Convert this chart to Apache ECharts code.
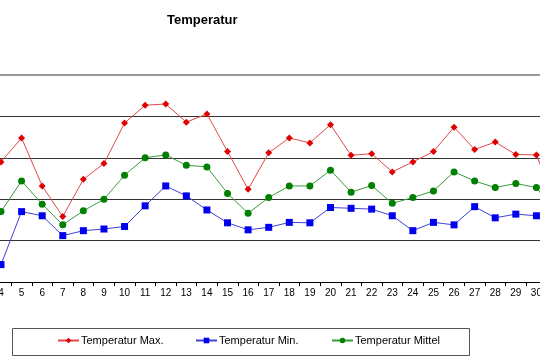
<!DOCTYPE html>
<html><head><meta charset="utf-8">
<script src="https://cdn.jsdelivr.net/npm/echarts@6/dist/echarts.min.js"></script>
<style>html,body{margin:0;padding:0;background:#fff}#c{width:540px;height:360px}</style>
</head><body><div id="c"></div>
<script>
var days = ['4','5','6','7','8','9','10','11','12','13','14','15','16','17','18','19','20','21','22','23','24','25','26','27','28','29','30','31'];
var tempMax = [14.5,17.4,11.6,7.9,12.4,14.3,19.2,21.35,21.5,19.3,20.3,15.75,11.2,15.6,17.4,16.8,19.0,15.3,15.5,13.3,14.5,15.75,18.7,16.0,16.9,15.4,15.35,9.0];
var tempMin = [2.1,8.5,8.0,5.6,6.2,6.4,6.7,9.2,11.6,10.4,8.7,7.15,6.3,6.6,7.2,7.15,9.0,8.9,8.8,8.0,6.2,7.2,6.9,9.1,7.75,8.2,8.0,7.4];
var tempMittel = [8.5,12.2,9.4,6.9,8.6,10.0,12.9,15.0,15.35,14.1,13.9,10.7,8.3,10.2,11.6,11.6,13.5,10.85,11.65,9.5,10.2,11.0,13.3,12.2,11.4,11.9,11.4,8.2];
var yTicks = {min: 0, max: 25, step: 5};
var names = ['Temperatur Max.', 'Temperatur Min.', 'Temperatur Mittel'];

var chart = echarts.init(document.getElementById('c'), null, {renderer: 'canvas'});
var font = 'Liberation Sans, Arial, sans-serif';
function lg(i, left) {
  return {
    data: [names[i]], left: left, top: 335, itemWidth: 21, itemHeight: 7, padding: 0,
    textStyle: {fontFamily: font, fontSize: 11, color: '#000', padding: [0,0,0,-3]},
    selectedMode: false
  };
}
chart.setOption({
  animation: false,
  backgroundColor: '#fff',
  title: {text: 'Temperatur', left: 162, top: 9,
    textStyle: {fontFamily: font, fontSize: 13, fontWeight: 'bold', color: '#000'}},
  grid: {left: -9.3, right: -27.3, top: 75, bottom: 78, outerBoundsMode: 'none'},
  legend: [lg(0, 57), lg(1, 195), lg(2, 331)],
  graphic: [{type: 'rect', shape: {x: 12.5, y: 328.5, width: 457, height: 27},
    style: {fill: 'none', stroke: '#555', lineWidth: 1}, silent: true}],
  xAxis: {
    type: 'category', data: days, boundaryGap: true,
    axisLine: {lineStyle: {color: '#000', width: 1}},
    axisTick: {show: true, length: 4, lineStyle: {color: '#000'}},
    axisLabel: {fontFamily: font, fontSize: 10, color: '#000', margin: 6, interval: 0}
  },
  yAxis: {
    type: 'value', min: yTicks.min, max: yTicks.max, interval: yTicks.step,
    axisLine: {show: false}, axisTick: {show: false}, axisLabel: {show: false},
    splitLine: {lineStyle: {color: ['#000', '#333', '#333', '#333', '#333', '#999'], width: 1}}
  },
  series: [
    {name: names[0], type: 'line', data: tempMax, symbol: 'diamond', symbolSize: 7,
     itemStyle: {color: '#e00000'}, lineStyle: {color: '#e04848', width: 1},
     markLine: {silent: true, symbol: 'none', label: {show: false},
       lineStyle: {color: '#999', width: 2, type: 'solid'}, data: [{yAxis: yTicks.max}]}},
    {name: names[1], type: 'line', data: tempMin, symbol: 'rect', symbolSize: 7,
     itemStyle: {color: '#0000ee'}, lineStyle: {color: '#4040d8', width: 1}},
    {name: names[2], type: 'line', data: tempMittel, symbol: 'circle', symbolSize: 7,
     itemStyle: {color: '#008000'}, lineStyle: {color: '#3a9a3a', width: 1}}
  ]
});
</script></body></html>
